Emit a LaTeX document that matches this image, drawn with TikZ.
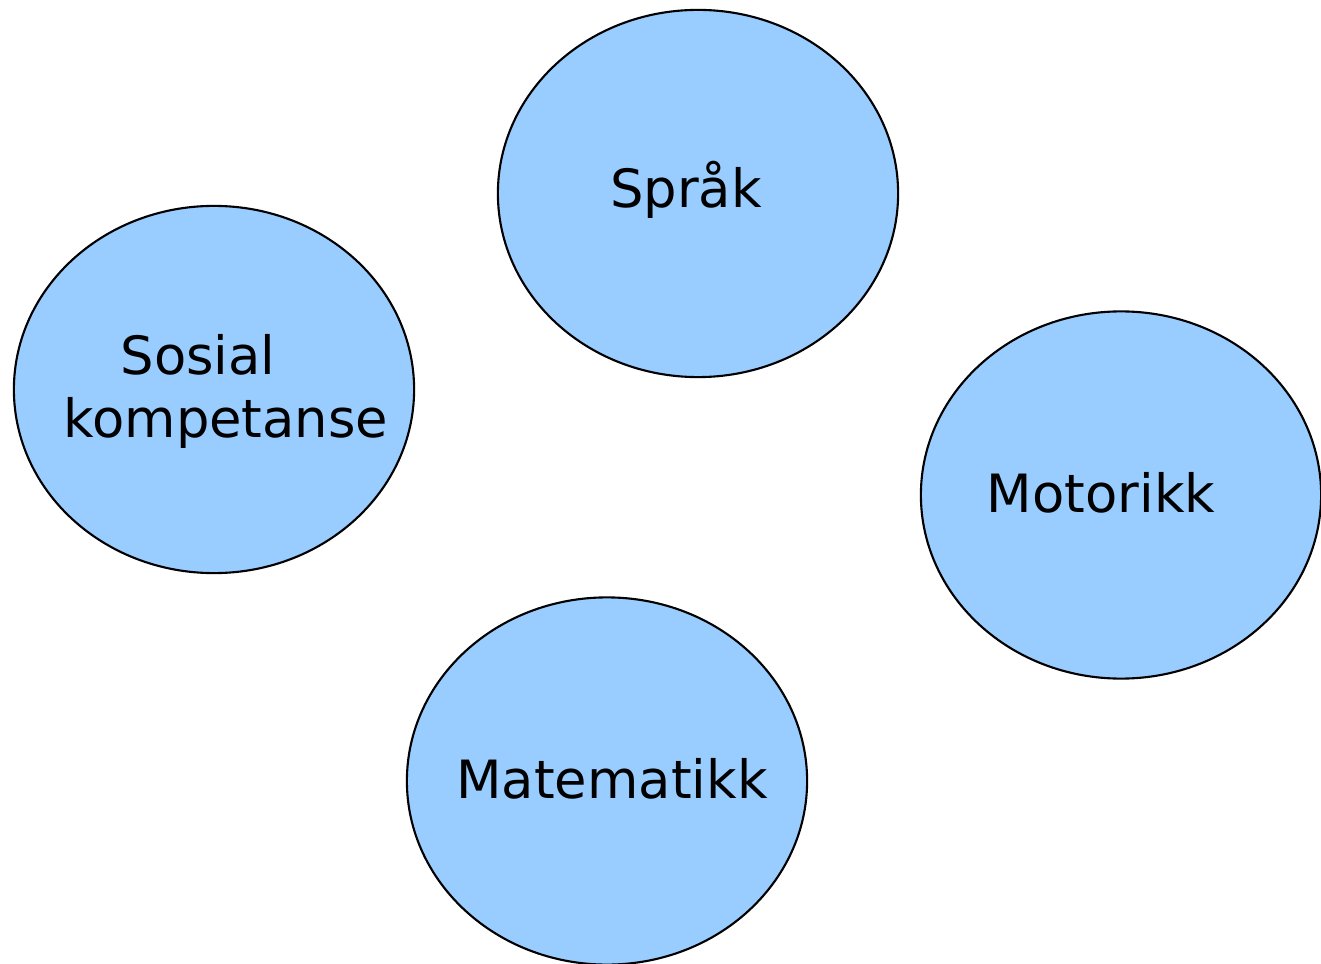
\documentclass[tikz,border=0pt]{standalone}
\usepackage{fontspec}
\setmainfont{DejaVu Sans}
\usepackage{tikz}
\usetikzlibrary{shapes.geometric}
\definecolor{lysblaa}{HTML}{99CCFF}
\tikzset{
 blob/.style={shape=ellipse,draw=black,line width=0.6pt,fill=lysblaa,
  minimum width=4cm,minimum height=3.67cm,inner sep=0pt},
 ord/.style={anchor=base,font=\fontsize{15}{18}\selectfont,inner sep=0pt}
}
\begin{document}
\begin{tikzpicture}[x=0.01cm,y=-0.01cm]
\useasboundingbox (0,0) rectangle (1321,964);

\path (698,193.5) node[blob,name=sp] {};
\path (214,389.5) node[blob,name=so] {};
\path (1121,495) node[blob,name=mo] {};
\path (607,781) node[blob,name=ma] {};

\path (686,208) node[ord,name=tsp] {Språk};
\path (198,375) node[ord,name=tso] {Sosial};
\path (226,438) node[ord,name=tko] {kompetanse};
\path (1101,512) node[ord,name=tmo] {Motorikk};
\path (612,798) node[ord,name=tma] {Matematikk};

\end{tikzpicture}
\end{document}
